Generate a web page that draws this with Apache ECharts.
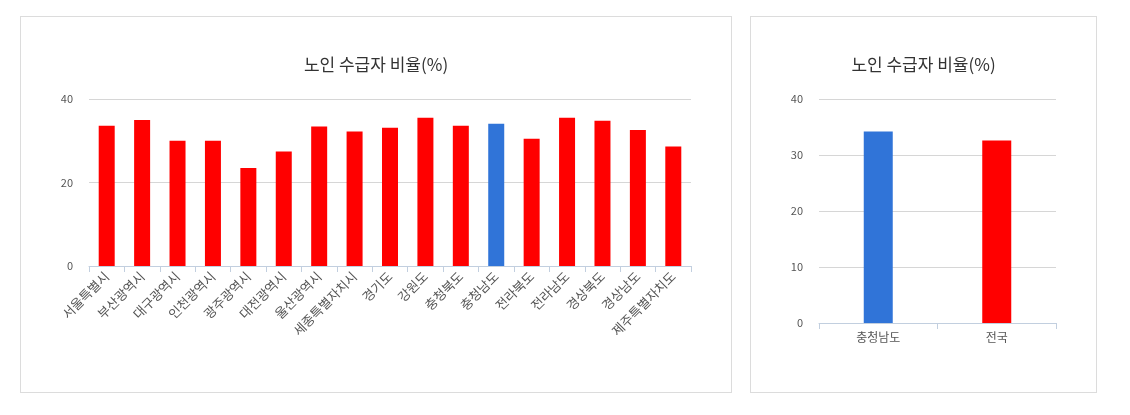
<!DOCTYPE html>
<html>
<head>
<meta charset="utf-8">
<script src="https://cdn.jsdelivr.net/npm/echarts@6/dist/echarts.min.js"></script>
<style>
html,body{margin:0;padding:0;background:#fff;width:1130px;height:415px;overflow:hidden;}
.panel{position:absolute;border:1px solid #dcdcdc;box-sizing:border-box;background:#fff;}
#p1{left:20px;top:16px;width:712px;height:377px;}
#p2{left:750px;top:16px;width:347px;height:377px;}
</style>
</head>
<body>
<div id="p1" class="panel"></div>
<div id="p2" class="panel"></div>
<script>
const titleText = '노인 수급자 비율(%)';
const regions = ['서울특별시','부산광역시','대구광역시','인천광역시','광주광역시','대전광역시','울산광역시','세종특별자치시','경기도','강원도','충청북도','충청남도','전라북도','전라남도','경상북도','경상남도','제주특별자치도'];
const regionValues = [33.6,35.0,30.0,30.0,23.5,27.4,33.4,32.2,33.1,35.5,33.6,34.1,30.5,35.5,34.8,32.6,28.6];
const highlightRegion = '충청남도';
const compareCats = ['충청남도','전국'];
const compareValues = [34.2,32.6];
const leftTicks = {min:0,max:40,interval:20};
const rightTicks = {min:0,max:40,interval:10};

const RED = '#ff0000', BLUE = '#3074d8';
const FONT = '"Noto Sans CJK KR","Noto Sans",sans-serif';

function baseOption(cats, vals, ticks, grid, colorFn, barW, rotate){
  return {
    animation:false,
    textStyle:{fontFamily:FONT},
    title:{text:titleText,left:'center',top:34,textStyle:{fontFamily:FONT,fontSize:17,fontWeight:'normal',color:'#333'}},
    grid:grid,
    xAxis:{type:'category',data:cats,
      axisLine:{lineStyle:{color:'#c2cfdf'}},
      axisTick:{show:true,alignWithLabel:false,length:6,lineStyle:{color:'#c2cfdf'}},
      axisLabel:{color:'#555',fontSize:rotate?13:12,rotate:rotate,interval:0,margin:8}},
    yAxis:{type:'value',min:ticks.min,max:ticks.max,interval:ticks.interval,
      axisLine:{show:false},axisTick:{show:false},
      axisLabel:{color:'#555',fontSize:11,margin:16},
      splitLine:{lineStyle:{color:'#d6d6d6'}}},
    series:[{type:'bar',barWidth:barW,
      data:vals.map((v,i)=>({value:v,itemStyle:{color:colorFn(cats[i])}}))}]
  };
}

const c1 = echarts.init(document.getElementById('p1'));
c1.setOption(baseOption(regions, regionValues, leftTicks,
  {left:68,right:40,top:82,bottom:126},
  c=> c===highlightRegion?BLUE:RED, 16, 45));

const c2 = echarts.init(document.getElementById('p2'));
c2.setOption(baseOption(compareCats, compareValues, rightTicks,
  {left:68,right:40,top:82,bottom:69},
  c=> c===highlightRegion?BLUE:RED, 29, 0));
</script>
</body>
</html>
